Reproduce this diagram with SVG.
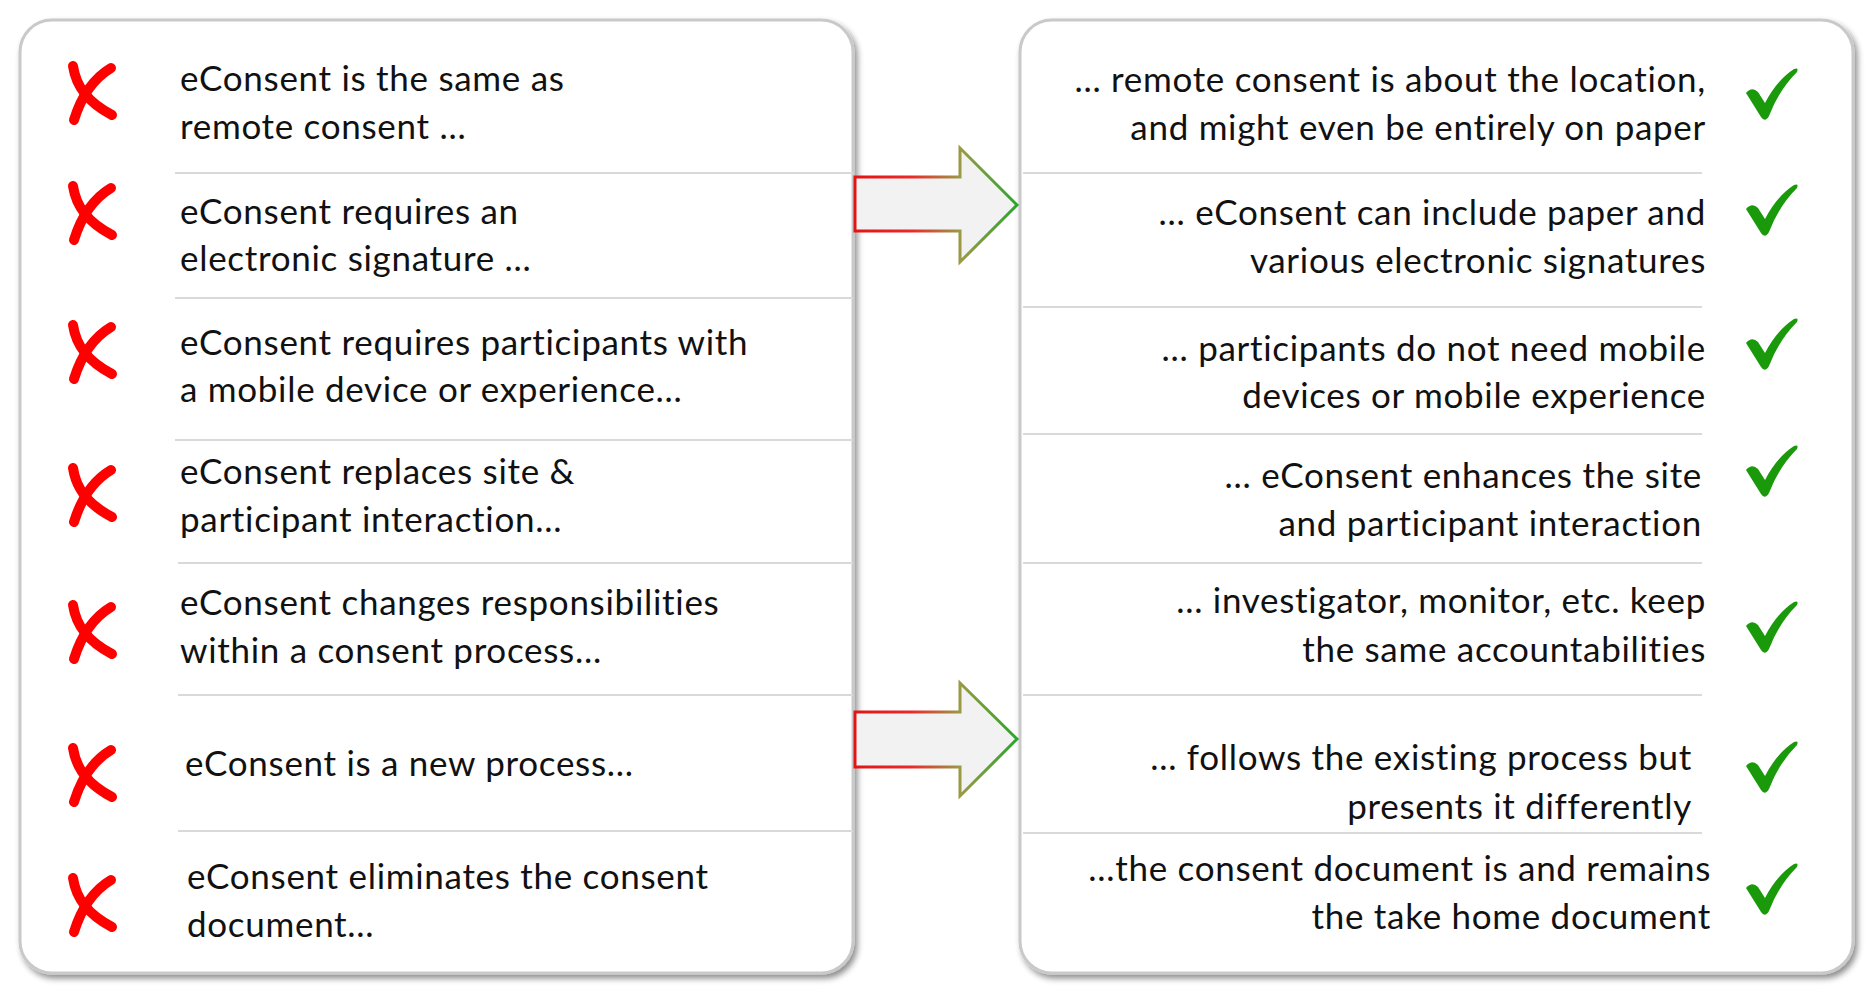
<svg xmlns="http://www.w3.org/2000/svg" width="1866" height="996" viewBox="0 0 1866 996">
<defs>
<filter id="sh" x="-5%" y="-5%" width="110%" height="110%">
<feGaussianBlur in="SourceAlpha" stdDeviation="3"/>
<feOffset dx="3" dy="4" result="b"/>
<feComponentTransfer><feFuncA type="linear" slope="0.45"/></feComponentTransfer>
<feMerge><feMergeNode/><feMergeNode in="SourceGraphic"/></feMerge>
</filter>
<linearGradient id="ag" x1="0" y1="0" x2="1" y2="0">
<stop offset="0" stop-color="#e31414"/>
<stop offset="0.35" stop-color="#ea2a2a"/>
<stop offset="0.65" stop-color="#9a9a45"/>
<stop offset="1" stop-color="#2aa52a"/>
</linearGradient>
<g id="xm"><path d="M -17,-26 C -14,-6 -3,10 22,23" /><path d="M 21,-24 C 6,-15 -8,2 -16,28" /></g>
<path id="ck" d="M -25,-2 Q -19,-9 -13,-3 L -6,8 Q 6,-15 23,-26 Q 28,-28 26,-23 Q 8,-5 -2,21 Q -6,28 -10,22 Z"/>
</defs>
<style>
.panel{fill:#fff;stroke:#c9c9c9;stroke-width:3}
.sep{stroke:#d9d9d9;stroke-width:2}
.t{font-family:Lato,"Open Sans",sans-serif;font-size:35px;letter-spacing:0.7px;fill:#111}
.r{text-anchor:end}
.x{fill:none;stroke:#ff0000;stroke-width:10;stroke-linecap:round}
.c{fill:#1a9a0a}
.arrow{fill:#f2f2f2;stroke:url(#ag);stroke-width:3;stroke-linejoin:miter}
</style>
<g id="left-panel">
<rect class="panel" x="20" y="20" width="833" height="953" rx="32" filter="url(#sh)"/>
</g>
<g id="right-panel">
<rect class="panel" x="1020" y="20" width="833" height="953" rx="32" filter="url(#sh)"/>
</g>
<g id="separators">
<line class="sep" x1="175" y1="173" x2="853" y2="173"/>
<line class="sep" x1="175" y1="298" x2="853" y2="298"/>
<line class="sep" x1="175" y1="440" x2="853" y2="440"/>
<line class="sep" x1="178" y1="563" x2="853" y2="563"/>
<line class="sep" x1="178" y1="695" x2="853" y2="695"/>
<line class="sep" x1="178" y1="831" x2="853" y2="831"/>
<line class="sep" x1="1023" y1="173" x2="1702" y2="173"/>
<line class="sep" x1="1023" y1="307" x2="1702" y2="307"/>
<line class="sep" x1="1023" y1="434" x2="1702" y2="434"/>
<line class="sep" x1="1023" y1="563" x2="1702" y2="563"/>
<line class="sep" x1="1023" y1="695" x2="1702" y2="695"/>
<line class="sep" x1="1023" y1="833" x2="1702" y2="833"/>
</g>
<g id="connectors">
<path class="arrow" d="M 855,177 L 960,177 L 960,148 L 1017,205 L 960,262 L 960,231 L 855,231 Z"/>
<path class="arrow" d="M 855,712 L 960,712 L 960,683 L 1017,739 L 960,796 L 960,767 L 855,767 Z"/>
</g>
<g id="myth1"><use href="#xm" class="x" transform="translate(90,92)"/><text class="t" x="180" y="91">eConsent is the same as</text><text class="t" x="180" y="139">remote consent …</text></g>
<g id="myth2"><use href="#xm" class="x" transform="translate(90,212)"/><text class="t" x="180" y="224">eConsent requires an</text><text class="t" x="180" y="271">electronic signature …</text></g>
<g id="myth3"><use href="#xm" class="x" transform="translate(90,351)"/><text class="t" x="180" y="355">eConsent requires participants with</text><text class="t" x="180" y="402">a mobile device or experience…</text></g>
<g id="myth4"><use href="#xm" class="x" transform="translate(90,494)"/><text class="t" x="180" y="484">eConsent replaces site &amp;</text><text class="t" x="180" y="532">participant interaction…</text></g>
<g id="myth5"><use href="#xm" class="x" transform="translate(90,631)"/><text class="t" x="180" y="615">eConsent changes responsibilities</text><text class="t" x="180" y="663">within a consent process…</text></g>
<g id="myth6"><use href="#xm" class="x" transform="translate(90,774)"/><text class="t" x="185" y="776">eConsent is a new process…</text></g>
<g id="myth7"><use href="#xm" class="x" transform="translate(90,904)"/><text class="t" x="187" y="889">eConsent eliminates the consent</text><text class="t" x="187" y="937">document…</text></g>
<g id="fact1"><use href="#ck" class="c" transform="translate(1771,95)"/><text class="t r" x="1706" y="92">… remote consent is about the location,</text><text class="t r" x="1706" y="140">and might even be entirely on paper</text></g>
<g id="fact2"><use href="#ck" class="c" transform="translate(1771,211)"/><text class="t r" x="1706" y="225">… eConsent can include paper and</text><text class="t r" x="1706" y="273">various electronic signatures</text></g>
<g id="fact3"><use href="#ck" class="c" transform="translate(1771,345)"/><text class="t r" x="1706" y="361">… participants do not need mobile</text><text class="t r" x="1706" y="408">devices or mobile experience</text></g>
<g id="fact4"><use href="#ck" class="c" transform="translate(1771,472)"/><text class="t r" x="1702" y="488">… eConsent enhances the site</text><text class="t r" x="1702" y="536">and participant interaction</text></g>
<g id="fact5"><use href="#ck" class="c" transform="translate(1771,628)"/><text class="t r" x="1706" y="613">… investigator, monitor, etc. keep</text><text class="t r" x="1706" y="662">the same accountabilities</text></g>
<g id="fact6"><use href="#ck" class="c" transform="translate(1771,768)"/><text class="t r" x="1692" y="770">… follows the existing process but</text><text class="t r" x="1692" y="819">presents it differently</text></g>
<g id="fact7"><use href="#ck" class="c" transform="translate(1771,890)"/><text class="t r" x="1711" y="881">…the consent document is and remains</text><text class="t r" x="1711" y="929">the take home document</text></g>
</svg>
